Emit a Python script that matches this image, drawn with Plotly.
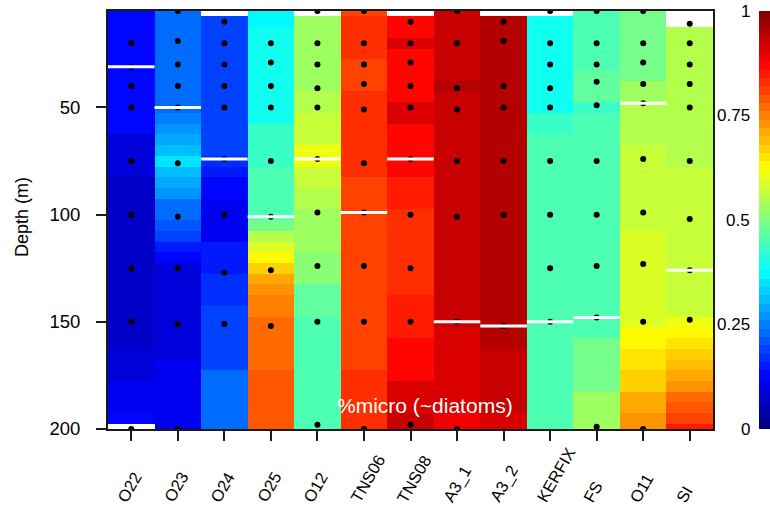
import plotly.graph_objects as go

# Stations, left to right
stations = ["O22", "O23", "O24", "O25", "O12", "TNS06", "TNS08",
            "A3_1", "A3_2", "KERFIX", "FS", "O11", "SI"]

# 5 m depth grid of the gridded section (cell centres, m)
grid_depths = list(range(5, 205, 5))

# Fraction of microphytoplankton per station:
# (first grid depth, last grid depth, fraction) for each band
pm_O22 = [(5, 60, 0.12), (65, 80, 0.09), (85, 160, 0.06), (165, 175, 0.085),
          (180, 190, 0.115), (195, 195, 0.125)]
pm_O23 = [(5, 5, 0.225), (10, 30, 0.235), (35, 45, 0.22), (50, 50, 0.23),
          (55, 55, 0.25), (60, 60, 0.265), (65, 65, 0.28), (70, 70, 0.30),
          (75, 75, 0.34), (80, 80, 0.31), (85, 85, 0.28), (90, 90, 0.265),
          (95, 95, 0.235), (100, 100, 0.222), (105, 105, 0.203), (110, 110, 0.18),
          (115, 115, 0.15), (120, 120, 0.12), (125, 165, 0.085), (170, 200, 0.115)]
pm_O24 = [(10, 70, 0.19), (75, 75, 0.175), (80, 80, 0.155), (85, 90, 0.125),
          (95, 110, 0.112), (115, 125, 0.14), (130, 140, 0.17), (145, 170, 0.19),
          (175, 200, 0.225)]
pm_O25 = [(5, 10, 0.375), (15, 55, 0.39), (60, 75, 0.42), (80, 100, 0.445),
          (105, 105, 0.485), (110, 110, 0.54), (115, 115, 0.595), (120, 120, 0.625),
          (125, 125, 0.67), (130, 130, 0.70), (135, 135, 0.72), (140, 145, 0.74),
          (150, 170, 0.77), (175, 200, 0.795)]
pm_O12 = [(10, 40, 0.525), (45, 50, 0.55), (55, 65, 0.575), (70, 75, 0.60),
          (80, 85, 0.575), (90, 95, 0.54), (100, 115, 0.525), (120, 130, 0.50),
          (135, 145, 0.475), (150, 200, 0.45)]
pm_TNS06 = [(5, 5, 0.81), (10, 25, 0.825), (30, 40, 0.80), (45, 80, 0.825),
            (85, 170, 0.80), (175, 200, 0.825)]
pm_TNS08 = [(10, 15, 0.875), (20, 20, 0.90), (25, 45, 0.875), (50, 55, 0.905),
            (60, 80, 0.875), (85, 95, 0.858), (100, 100, 0.835), (105, 135, 0.825),
            (140, 155, 0.85), (160, 175, 0.875), (180, 190, 0.905), (195, 200, 0.93)]
pm_A3_1 = [(5, 35, 0.925), (40, 40, 0.945), (45, 150, 0.925), (155, 190, 0.91),
           (195, 200, 0.893)]
pm_A3_2 = [(10, 160, 0.95), (165, 190, 0.925), (195, 200, 0.905)]
pm_KERFIX = [(10, 50, 0.39), (55, 60, 0.425), (65, 200, 0.45)]
pm_FS = [(5, 30, 0.443), (35, 45, 0.475), (50, 50, 0.435), (55, 155, 0.458),
         (160, 180, 0.49), (185, 200, 0.525)]
pm_O11 = [(5, 35, 0.49), (40, 45, 0.525), (50, 65, 0.54), (70, 105, 0.575),
          (110, 150, 0.597), (155, 160, 0.625), (165, 170, 0.655), (175, 180, 0.675),
          (185, 190, 0.70), (195, 200, 0.725)]
pm_SI = [(15, 75, 0.54), (80, 145, 0.575), (150, 150, 0.60), (155, 155, 0.635),
         (160, 160, 0.658), (165, 165, 0.675), (170, 170, 0.69), (175, 175, 0.71),
         (180, 180, 0.735), (185, 185, 0.76), (190, 190, 0.785), (195, 195, 0.815),
         (200, 200, 0.845)]

# Sampling depths (m)
smp_O22 = [20, 31, 40, 50, 75, 100, 125, 150, 200]
smp_O23 = [5, 19, 30, 40, 50, 76, 101, 125, 151, 200]
smp_O24 = [10, 20, 30, 40, 50, 74, 100, 127, 151]
smp_O25 = [20, 29, 40, 50, 75, 101, 126, 152]
smp_O12 = [5, 20, 30, 41, 50, 74, 99, 124, 150, 198]
smp_TNS06 = [5, 20, 30, 39, 51, 76, 99, 124, 150, 200]
smp_TNS08 = [10, 20, 29, 40, 50, 74, 100, 125, 150, 198]
smp_A3_1 = [5, 20, 41, 51, 75, 101, 150, 200]
smp_A3_2 = [10, 19, 40, 50, 75, 100, 152]
smp_KERFIX = [5, 20, 30, 41, 50, 75, 100, 125, 150]
smp_FS = [5, 20, 30, 38, 49, 75, 100, 124, 148, 199]
smp_O11 = [5, 20, 29, 39, 48, 74, 99, 123, 150, 200]
smp_SI = [11, 20, 30, 39, 50, 75, 102, 126, 149]

# Mixed layer depth per station (m)
mld = [31, 50, 74, 101, 74, 99, 74, 150, 152, 150, 148, 48, 126]

colorbar_ticks = [0, 0.25, 0.5, 0.75, 1]

bands = [pm_O22, pm_O23, pm_O24, pm_O25, pm_O12, pm_TNS06, pm_TNS08,
         pm_A3_1, pm_A3_2, pm_KERFIX, pm_FS, pm_O11, pm_SI]
samples = [smp_O22, smp_O23, smp_O24, smp_O25, smp_O12, smp_TNS06, smp_TNS08,
           smp_A3_1, smp_A3_2, smp_KERFIX, smp_FS, smp_O11, smp_SI]

FONT = "Liberation Sans, Arial, Helvetica, sans-serif"


def jet(t):
    anchors = [(0.0, (0, 0, 0.5)), (0.125, (0, 0, 1)), (0.375, (0, 1, 1)),
               (0.625, (1, 1, 0)), (0.875, (1, 0, 0)), (1.0, (0.5, 0, 0))]
    for (t0, c0), (t1, c1) in zip(anchors[:-1], anchors[1:]):
        if t <= t1:
            f = (t - t0) / (t1 - t0)
            r, g, b = (c0[k] + f * (c1[k] - c0[k]) for k in range(3))
            return f"rgb({round(r*255)},{round(g*255)},{round(b*255)})"
    return "rgb(128,0,0)"


# Stepped jet palette, 50 levels
n_levels = 50
colorscale = []
for k in range(n_levels):
    col = jet((k + 0.5) / n_levels)
    colorscale.append([k / n_levels, col])
    colorscale.append([(k + 1) / n_levels, col])

# Depth x station table for the heatmap (None where not sampled)
z = [[None] * len(stations) for _ in grid_depths]
for j, station_bands in enumerate(bands):
    for d0, d1, v in station_bands:
        for i, d in enumerate(grid_depths):
            if d0 <= d <= d1:
                z[i][j] = v

fig = go.Figure()

fig.add_trace(go.Heatmap(
    x=list(range(len(stations))), y=grid_depths, z=z,
    zmin=0, zmax=1, colorscale=colorscale, hoverongaps=False,
    colorbar=dict(x=(759 - 108) / 605, xanchor="left", y=0.5, yanchor="middle",
                  len=1.0, lenmode="fraction", thickness=16, xpad=0, ypad=0,
                  outlinewidth=0, showticklabels=False, ticks=""),
))

# Sample positions
sx, sy = [], []
for j, depths in enumerate(samples):
    sx += [j] * len(depths)
    sy += depths
fig.add_trace(go.Scatter(x=sx, y=sy, mode="markers",
                         marker=dict(color="black", size=6), showlegend=False))

# Mixed layer depth segments
lx, ly = [], []
for j, m in enumerate(mld):
    lx += [j - 0.5, j + 0.5, None]
    ly += [m, m, None]
fig.add_trace(go.Scatter(x=lx, y=ly, mode="lines",
                         line=dict(color="white", width=3), showlegend=False))

annotations = []
# Station labels
for j, name in enumerate(stations):
    annotations.append(dict(x=j, y=(429 - 508) / 418, xref="x", yref="paper",
                            text=name, showarrow=False, textangle=-60,
                            xanchor="left", yanchor="bottom", xshift=-20,
                            font=dict(family=FONT, size=16.5, color="black")))
# Colour bar labels
for v in colorbar_ticks:
    annotations.append(dict(x=(752 - 108) / 605, y=v, xref="paper", yref="paper",
                            text=f"{v:g}", showarrow=False, xanchor="right",
                            yanchor="middle",
                            font=dict(family=FONT, size=17, color="black")))
# Axis title
annotations.append(dict(x=(22 - 108) / 605, y=0.507, xref="paper", yref="paper",
                        text="Depth (m)", showarrow=False, textangle=-90,
                        xanchor="center", yanchor="middle",
                        font=dict(family=FONT, size=18, color="black")))
# Variable name
annotations.append(dict(x=(425 - 108) / 605, y=(429 - 405) / 418,
                        xref="paper", yref="paper", text="%micro (~diatoms)",
                        showarrow=False, xanchor="center", yanchor="middle",
                        font=dict(family=FONT, size=21, color="white")))

fig.update_layout(
    width=770, height=510,
    margin=dict(l=108, r=57, t=11, b=81, autoexpand=False),
    paper_bgcolor="white", plot_bgcolor="white",
    showlegend=False,
    font=dict(family=FONT, color="black"),
    annotations=annotations,
    xaxis=dict(range=[-0.5, len(stations) - 0.5], tickvals=list(range(len(stations))),
               showticklabels=False, ticks="outside", ticklen=10, tickwidth=1.5,
               tickcolor="#1a1a1a", showline=True, linecolor="#1a1a1a", linewidth=2,
               mirror=True, showgrid=False, zeroline=False),
    yaxis=dict(range=[200, 5], tickvals=[50, 100, 150, 200], ticks="outside",
               ticklen=10, tickwidth=1.5, tickcolor="#1a1a1a", showline=True,
               linecolor="#1a1a1a", linewidth=2, mirror=True, showgrid=False,
               zeroline=False, ticklabelstandoff=12,
               tickfont=dict(family=FONT, size=18.5, color="black")),
)

fig.write_html("out.html")
